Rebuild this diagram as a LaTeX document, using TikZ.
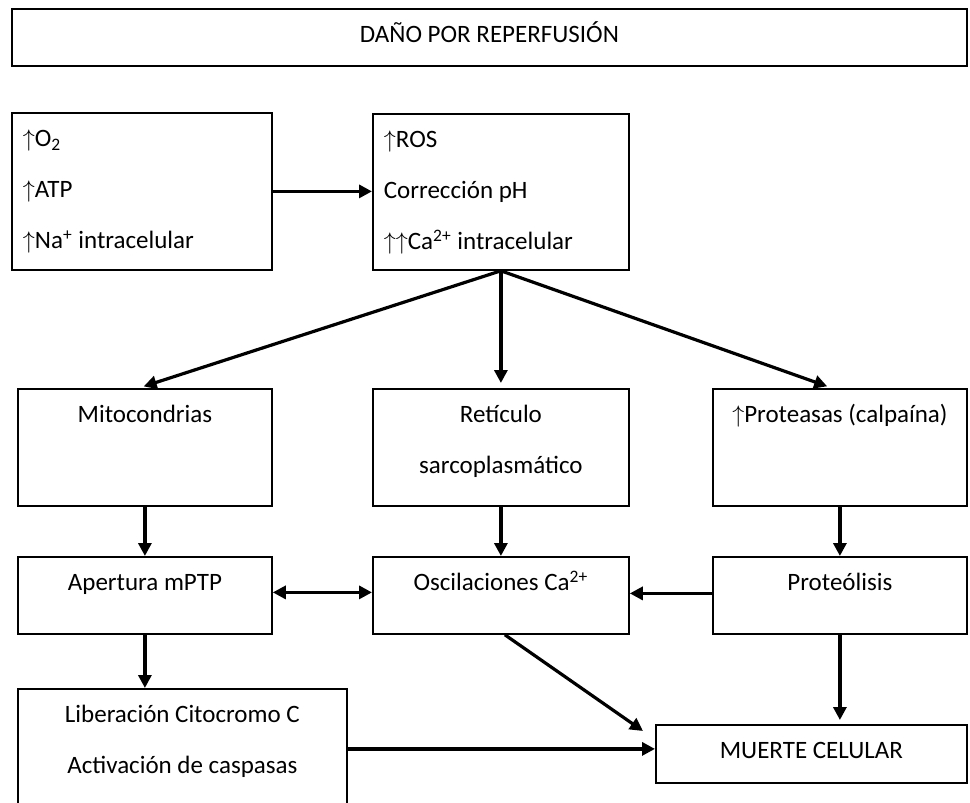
\documentclass[tikz,border=0pt]{standalone}
\usepackage{fontspec}
\setmainfont{Carlito}
\usetikzlibrary{arrows.meta}

\newcommand{\sube}{$\uparrow$}

\begin{document}
\begin{tikzpicture}[
x=0.5pt,
y=-0.5pt,
font=\fontsize{12.5}{25.5}\selectfont,
rect/.style={
draw,
line width=0.9pt,
anchor=north west,
inner xsep=5.5pt,
inner ysep=0pt,
text height=17pt,
align=center,
},
leftrect/.style={
rect,
align=flush left,
text width=#1,
},
cenrect/.style={
rect,
align=flush center,
text width=#1,
},
myarrow/.style={
line width=1.6pt,
-{Triangle[length=6.5pt,width=6.5pt]},
},
twoway/.style={
line width=1.6pt,
{Triangle[length=6.5pt,width=6.5pt]}-{Triangle[length=6.5pt,width=6.5pt]},
},
]
\useasboundingbox (0,0) rectangle (970,803);

\node[rect, minimum width=477.5pt, text depth=11.5pt] at (11,8) (dano) {DAÑO POR REPERFUSIÓN};

\node[leftrect=119pt, text depth=61.5pt] at (11,112) (entrada) {\sube O\textsubscript{2}\\ \sube ATP\\ \sube Na\textsuperscript{+} intracelular};
\node[leftrect=117pt, text depth=61pt] at (372,113) (ros) {\sube ROS\\ Corrección pH\\ \sube\sube Ca\textsuperscript{2+} intracelular};

\node[rect, minimum width=127pt, text depth=41.5pt] at (17,388) (mito) {Mitocondrias};
\node[cenrect=117pt, text depth=41.5pt] at (372,388) (reticulo) {Retículo\\ sarcoplasmático};
\node[rect, minimum width=127pt, text depth=41.5pt] at (712,388) (proteasas) {\sube Proteasas (calpaína)};

\node[rect, minimum width=127pt, text depth=21.5pt] at (17,556) (apertura) {Apertura mPTP};
\node[rect, minimum width=128pt, text depth=21.5pt] at (372,556) (oscil) {Oscilaciones Ca\textsuperscript{2+}};
\node[rect, minimum width=127pt, text depth=21.5pt] at (712,556) (proteol) {Proteólisis};

\node[cenrect=153.5pt, text depth=43pt] at (17,688) (liberacion) {Liberación Citocromo C\\ Activación de caspasas};
\node[rect, minimum width=155.5pt, text depth=12pt] at (655,724) (muerte) {MUERTE CELULAR};

% de arriba hacia abajo
\draw[myarrow] (entrada.east) -- (entrada.east -| ros.west);
\draw[myarrow, shorten >=2.5pt] (ros.south) -- ([xshift=-3pt]mito.north);
\draw[myarrow, shorten >=2.5pt] (ros.south) -- (reticulo.north);
\draw[myarrow, shorten >=2.5pt] (ros.south) -- ([xshift=-4pt]proteasas.north);

\draw[myarrow] (mito.south) -- (apertura.north);
\draw[myarrow] (reticulo.south) -- (oscil.north);
\draw[myarrow] (proteasas.south) -- (proteol.north);

\draw[twoway] ([yshift=1.5pt]apertura.east) -- ([yshift=1.5pt]oscil.west);
\draw[myarrow] ([yshift=1pt]proteol.west) -- ([yshift=1pt]oscil.east);

\draw[myarrow] (apertura.south) -- (apertura.south |- liberacion.north);
\draw[myarrow] ([xshift=2pt]oscil.south) -- ([xshift=-6pt,yshift=-3.5pt]muerte.north west);
\draw[myarrow, shorten >=2pt] (proteol.south) -- (proteol.south |- muerte.north);
\draw[myarrow] (liberacion.east) -- (liberacion.east -| muerte.west);

\end{tikzpicture}
\end{document}
